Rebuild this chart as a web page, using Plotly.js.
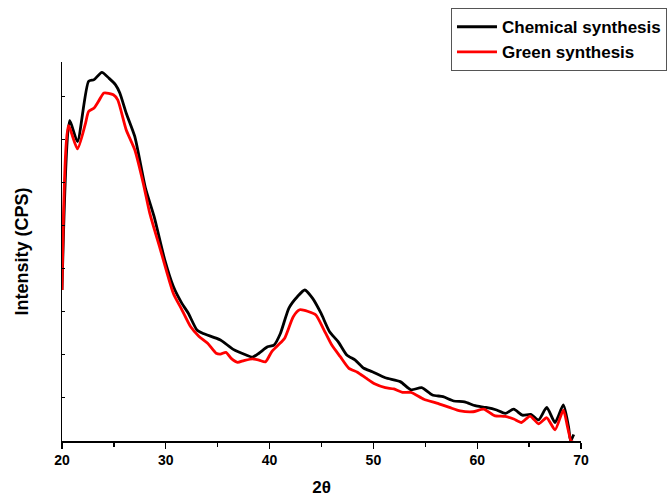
<!DOCTYPE html>
<html>
<head>
<meta charset="utf-8">
<script src="https://cdn.plot.ly/plotly-3.0.1.min.js"></script>
<style>html,body{margin:0;padding:0;background:#fff}#chart{width:672px;height:498px}</style>
</head>
<body>
<div id="chart"></div>
<script>
const chemX = [20,20.74,21.49,22.56,23.09,23.84,24.54,25.16,25.57,26.19,27.01,28.04,28.87,29.9,30.73,31.55,32.17,33.0,33.6,35.26,36.5,37.74,38.36,38.98,39.8,40.42,41.04,41.86,42.69,43.39,44.13,44.95,45.78,46.6,47.43,48.25,49.08,49.9,51.15,52.59,53.62,54.65,55.68,56.71,57.74,58.78,59.81,60.84,61.87,62.7,63.52,64.35,65.17,65.91,66.7,67.5,68.3,68.8,69.0,69.3];
const chemY = [3.51,7.45,6.96,8.36,8.40,8.57,8.43,8.28,8.09,7.62,7.08,5.88,5.22,4.21,3.59,3.20,2.97,2.58,2.50,2.35,2.13,2.0,1.95,2.04,2.19,2.23,2.50,3.09,3.36,3.51,3.32,2.97,2.54,2.31,2.0,1.88,1.69,1.61,1.47,1.38,1.19,1.24,1.07,1.03,0.93,0.91,0.82,0.78,0.72,0.64,0.74,0.60,0.62,0.49,0.78,0.43,0.84,0.33,0.0,0.15];
const greenX = [20,20.62,21.49,22.27,22.56,23.09,23.6,24.04,24.95,25.37,26.19,27.01,27.83,28.46,29.49,30.73,31.55,32.38,33.2,34.03,34.85,35.26,35.8,36.3,36.91,37.53,38.36,38.98,39.6,40.21,40.83,41.45,42.28,42.9,43.72,44.46,45.16,45.99,46.81,47.64,48.46,49.29,50.11,51.15,51.97,52.8,53.62,54.86,56.1,57.33,58.36,59.6,60.63,61.66,62.7,63.52,64.27,65.09,65.91,66.7,67.5,68.3,68.7,69.1,69.3];
const greenY = [3.51,7.33,6.79,7.39,7.66,7.74,7.93,8.09,8.05,7.93,7.23,6.77,5.99,5.29,4.44,3.43,3.05,2.66,2.43,2.27,2.04,2.02,2.06,1.92,1.83,1.87,1.91,1.88,1.84,2.08,2.23,2.39,2.89,3.05,3.01,2.93,2.62,2.23,1.96,1.69,1.60,1.46,1.33,1.24,1.21,1.13,1.13,0.97,0.88,0.78,0.70,0.68,0.74,0.59,0.57,0.51,0.43,0.58,0.40,0.54,0.26,0.72,0.33,-0.05,0.0];
const xTicks = [20,30,40,50,60,70];
const seriesNames = ["Chemical synthesis","Green synthesis"];

const font = "Arial, 'Liberation Sans', sans-serif";
const traces = [
  {x: chemX, y: chemY, name: seriesNames[0], type: 'scatter', mode: 'lines',
   line: {color: '#000000', width: 2.8, shape: 'spline', smoothing: 0.6}},
  {x: greenX, y: greenY, name: seriesNames[1], type: 'scatter', mode: 'lines',
   line: {color: '#ff0000', width: 2.8, shape: 'spline', smoothing: 0.6}}
];
const layout = {
  width: 672, height: 498,
  margin: {l: 62, r: 91, t: 62, b: 57, autoexpand: false},
  paper_bgcolor: '#fff', plot_bgcolor: '#fff',
  showlegend: true,
  legend: {x: 0.7495, y: 1.142, xanchor: 'left', yanchor: 'top',
    bordercolor: '#555', borderwidth: 1, bgcolor: '#fff',
    font: {family: font, size: 17, color: '#000', weight: 'bold'},
    tracegroupgap: 0, itemwidth: 40},
  xaxis: {range: [20, 70], tickvals: xTicks, ticktext: xTicks.map(String),
    showline: true, linecolor: '#000', linewidth: 1.5, mirror: false,
    showgrid: false, zeroline: false, ticks: 'outside', ticklen: 6, tickwidth: 1.2, tickcolor: '#000',
    minor: {dtick: 5, tick0: 25, ticks: 'outside', ticklen: 4, tickwidth: 1.2, tickcolor: '#000', showgrid: false},
    tickfont: {family: "'Liberation Sans Narrow', Arial, sans-serif", size: 14, color: '#000', weight: 'bold'},
    title: {text: '2θ', font: {family: font, size: 17, color: '#000', weight: 'bold'}, standoff: 14}},
  yaxis: {range: [0, 8.81], dtick: 1, tick0: 0, showticklabels: false,
    showline: true, linecolor: '#000', linewidth: 1.5,
    showgrid: false, zeroline: false, ticks: 'inside', ticklen: 3, tickwidth: 1, tickcolor: '#000',
    title: {text: 'Intensity (CPS)', font: {family: font, size: 18, color: '#000', weight: 'bold'}, standoff: 27}}
};
Plotly.newPlot('chart', traces, layout, {displayModeBar: false, staticPlot: true});
</script>
</body>
</html>
